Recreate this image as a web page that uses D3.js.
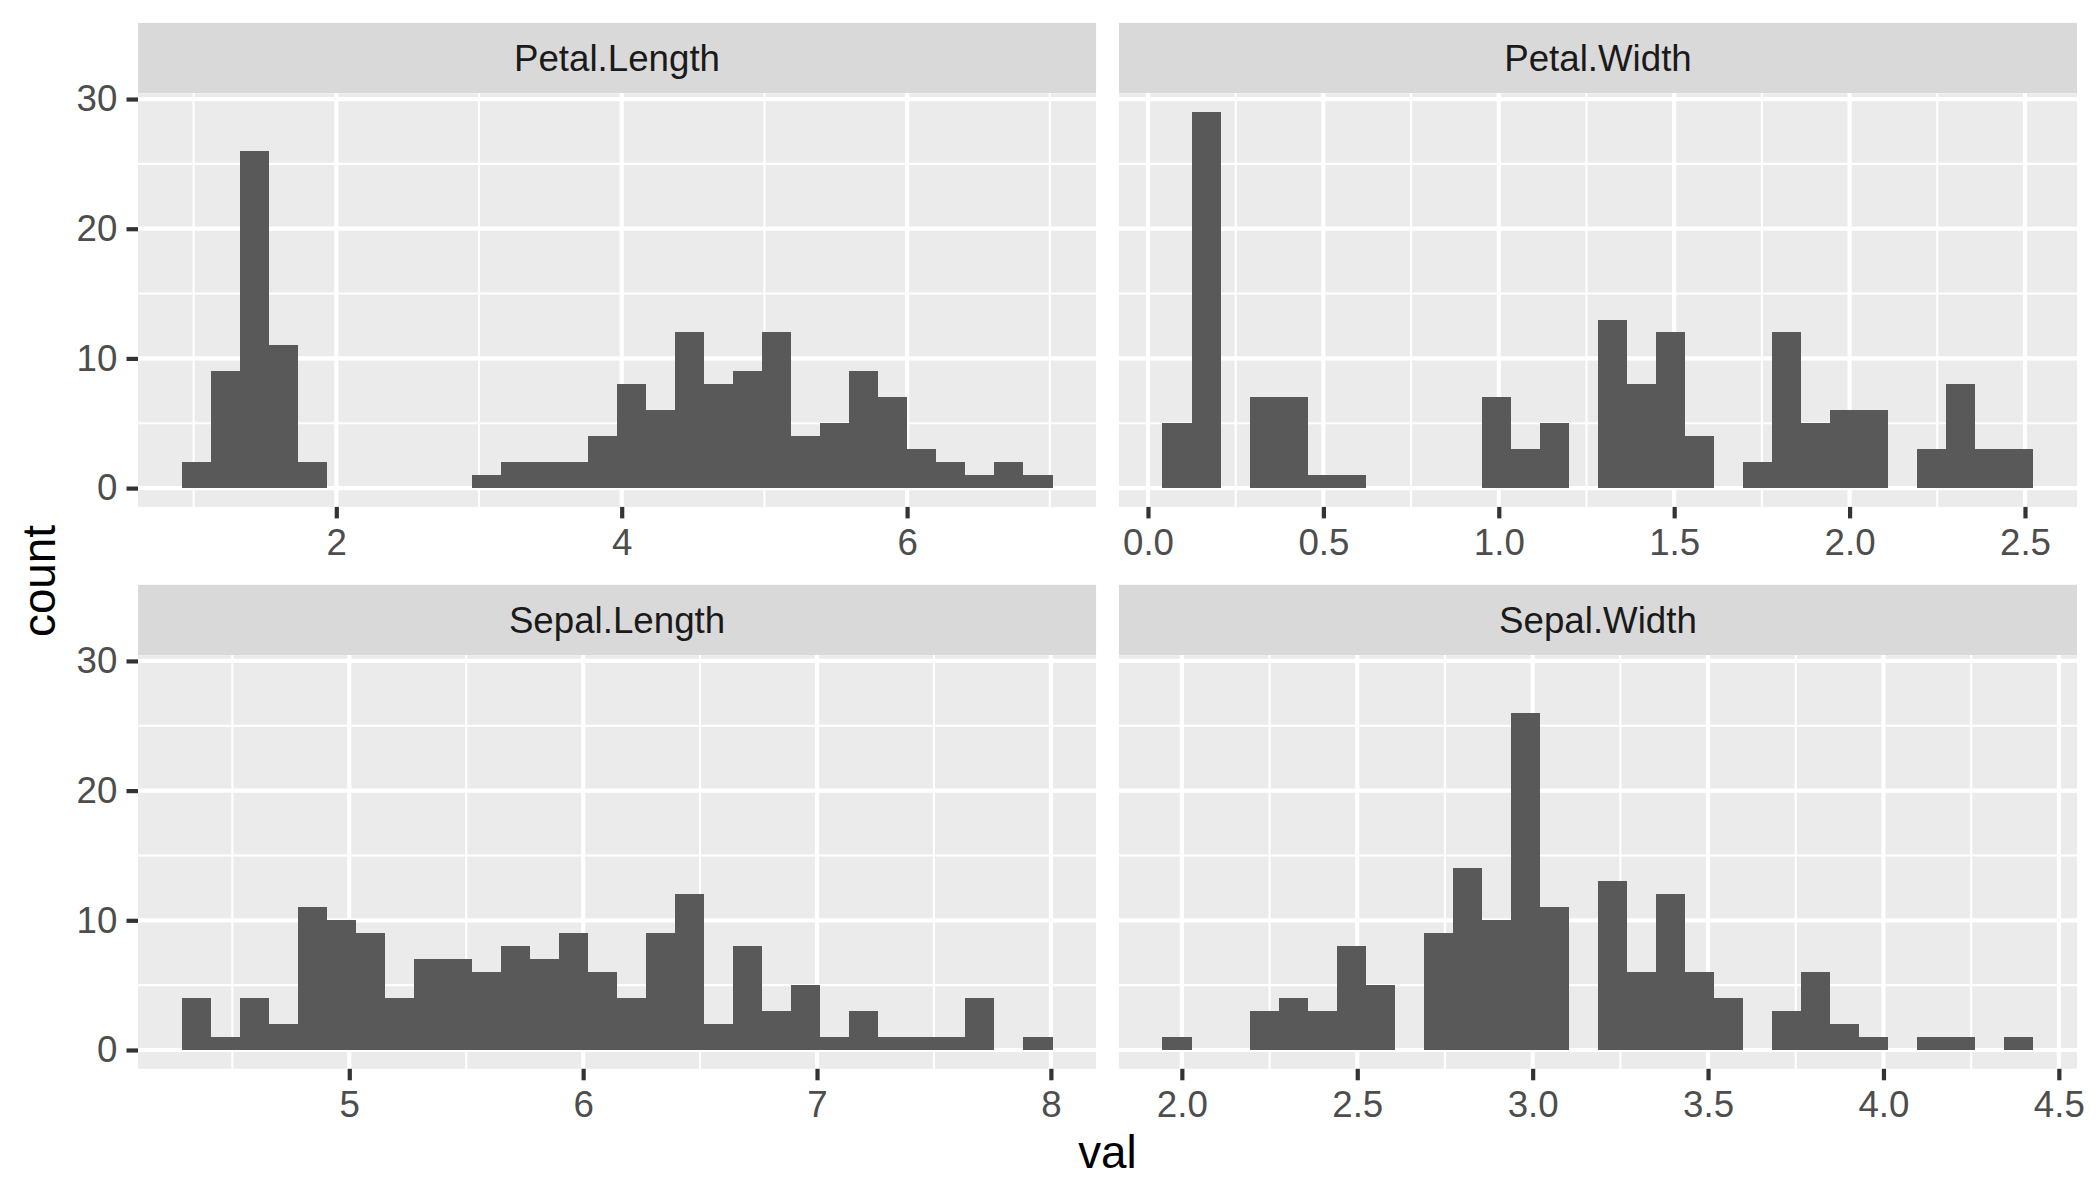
<!DOCTYPE html>
<html>
<head>
<meta charset="utf-8">
<script src="https://cdn.jsdelivr.net/npm/d3@7"></script>
<style>
  html, body { margin: 0; padding: 0; background: #ffffff; }
  svg { display: block; font-family: "Liberation Sans", Arial, Helvetica, sans-serif; }
</style>
</head>
<body>
<svg id="chart" width="2100" height="1200"></svg>
<script>
// ---- data (iris, 30-bin histograms) ----
const panelNames = ["Petal.Length", "Petal.Width", "Sepal.Length", "Sepal.Width"];

const petalLengthCounts = [2, 9, 26, 11, 2, 0, 0, 0, 0, 0, 1, 2, 2, 2, 4, 8, 6, 12, 8, 9, 12, 4, 5, 9, 7, 3, 2, 1, 2, 1];
const petalWidthCounts  = [5, 29, 0, 7, 7, 1, 1, 0, 0, 0, 0, 7, 3, 5, 0, 13, 8, 12, 4, 0, 2, 12, 5, 6, 6, 0, 3, 8, 3, 3];
const sepalLengthCounts = [4, 1, 4, 2, 11, 10, 9, 4, 7, 7, 6, 8, 7, 9, 6, 4, 9, 12, 2, 8, 3, 5, 1, 3, 1, 1, 1, 4, 0, 1];
const sepalWidthCounts  = [1, 0, 0, 3, 4, 3, 8, 5, 0, 9, 14, 10, 26, 11, 0, 13, 6, 12, 6, 4, 0, 3, 6, 2, 1, 0, 1, 1, 0, 1];

// left edge of the first bin and bin width for each panel
const binOrigins = [0.915517, 0.041379, 4.282759, 1.944828];
const binWidths  = [0.203448, 0.082759, 0.124138, 0.082759];

const xTickValues = [
  [2, 4, 6],
  [0, 0.5, 1, 1.5, 2, 2.5],
  [5, 6, 7, 8],
  [2, 2.5, 3, 3.5, 4, 4.5]
];
const xTickLabels = [
  ["2", "4", "6"],
  ["0.0", "0.5", "1.0", "1.5", "2.0", "2.5"],
  ["5", "6", "7", "8"],
  ["2.0", "2.5", "3.0", "3.5", "4.0", "4.5"]
];
const yTickValues = [0, 10, 20, 30];
const yTickLabels = ["0", "10", "20", "30"];
const xTitle = "val";
const yTitle = "count";

const allCounts = [petalLengthCounts, petalWidthCounts, sepalLengthCounts, sepalWidthCounts];

// ---- layout ----
const svg = d3.select("#chart");
const W = 2100, H = 1200;
const marginTop = 22.9, spacing = 22.9;
const plotLeft = 138, plotRight = 2077;
const panelW = (plotRight - plotLeft - spacing) / 2;
const stripH = 70.3, panelH = 413.7, xAxisBlock = 55;
const tickLen = 11.5;
const fontTick = 36.7, fontTitle = 45.8;

const colPanelBg = "#EBEBEB", colStrip = "#D9D9D9", colBar = "#595959";
const colTickText = "#4D4D4D", colTick = "#333333", colStripText = "#1A1A1A";

svg.append("rect").attr("width", W).attr("height", H).attr("fill", "#ffffff");

// shared y scale (fixed), with ggplot's 5% expansion
const yMax = d3.max(allCounts.flat());
const yPad = yMax * 0.05;

panelNames.forEach((name, i) => {
  const col = i % 2, row = Math.floor(i / 2);
  const px = plotLeft + col * (panelW + spacing);
  const stripTop = marginTop + row * (stripH + panelH + xAxisBlock + spacing);
  const py = stripTop + stripH;

  const counts = allCounts[i];
  const bins = counts.map((c, k) => ({
    x0: binOrigins[i] + k * binWidths[i],
    x1: binOrigins[i] + (k + 1) * binWidths[i],
    count: c
  }));
  const xmin = bins[0].x0, xmax = bins[bins.length - 1].x1;
  const xpad = (xmax - xmin) * 0.05;

  const x = d3.scaleLinear().domain([xmin - xpad, xmax + xpad]).range([0, panelW]);
  const y = d3.scaleLinear().domain([0 - yPad, yMax + yPad]).range([panelH, 0]);

  // strip
  const g = svg.append("g").attr("transform", `translate(${px},0)`);
  g.append("rect").attr("x", 0).attr("y", stripTop).attr("width", panelW).attr("height", stripH)
    .attr("fill", colStrip);
  g.append("text").attr("x", panelW / 2).attr("y", stripTop + stripH / 2 + 13)
    .attr("text-anchor", "middle").attr("font-size", fontTick).attr("fill", colStripText)
    .text(name);

  const p = g.append("g").attr("transform", `translate(0,${py})`);
  p.append("rect").attr("width", panelW).attr("height", panelH).attr("fill", colPanelBg);

  // minor grid
  const xt = xTickValues[i];
  const step = xt[1] - xt[0];
  const xMinor = [];
  for (let k = -1; k < xt.length; k++) {
    const v = xt[0] + (k + 0.5) * step;
    if (v > x.domain()[0] && v < x.domain()[1]) xMinor.push(v);
  }
  const yStep = yTickValues[1] - yTickValues[0];
  const yMinor = [];
  for (let k = -1; k < yTickValues.length; k++) {
    const v = yTickValues[0] + (k + 0.5) * yStep;
    if (v > y.domain()[0] && v < y.domain()[1]) yMinor.push(v);
  }
  p.selectAll(".ymin").data(yMinor).join("line")
    .attr("x1", 0).attr("x2", panelW).attr("y1", d => y(d)).attr("y2", d => y(d))
    .attr("stroke", "#ffffff").attr("stroke-width", 2.1);
  p.selectAll(".xmin").data(xMinor).join("line")
    .attr("y1", 0).attr("y2", panelH).attr("x1", d => x(d)).attr("x2", d => x(d))
    .attr("stroke", "#ffffff").attr("stroke-width", 2.1);
  // major grid
  p.selectAll(".ymaj").data(yTickValues).join("line")
    .attr("x1", 0).attr("x2", panelW).attr("y1", d => y(d)).attr("y2", d => y(d))
    .attr("stroke", "#ffffff").attr("stroke-width", 4.2);
  p.selectAll(".xmaj").data(xt).join("line")
    .attr("y1", 0).attr("y2", panelH).attr("x1", d => x(d)).attr("x2", d => x(d))
    .attr("stroke", "#ffffff").attr("stroke-width", 4.2);

  // bars
  p.selectAll(".bar").data(bins.filter(b => b.count > 0)).join("rect")
    .attr("x", d => x(d.x0)).attr("width", d => x(d.x1) - x(d.x0))
    .attr("y", d => y(d.count)).attr("height", d => y(0) - y(d.count))
    .attr("fill", colBar).attr("shape-rendering", "crispEdges");

  // x axis
  const xAxis = d3.axisBottom(x).tickValues(xt)
    .tickFormat((d, k) => xTickLabels[i][k])
    .tickSize(tickLen).tickPadding(10.5);
  const xa = p.append("g").attr("transform", `translate(0,${panelH})`).call(xAxis);
  xa.select(".domain").remove();
  xa.selectAll(".tick line").attr("stroke", colTick).attr("stroke-width", 4.2);
  xa.selectAll(".tick text").attr("fill", colTickText).attr("font-size", fontTick)
    .attr("font-family", "Liberation Sans, Arial, sans-serif");

  // y axis only on left column
  if (col === 0) {
    const yAxis = d3.axisLeft(y).tickValues(yTickValues)
      .tickFormat((d, k) => yTickLabels[k])
      .tickSize(tickLen).tickPadding(9.2);
    const ya = p.append("g").call(yAxis);
    ya.select(".domain").remove();
    ya.selectAll(".tick line").attr("stroke", colTick).attr("stroke-width", 4.2);
    ya.selectAll(".tick text").attr("fill", colTickText).attr("font-size", fontTick)
      .attr("font-family", "Liberation Sans, Arial, sans-serif");
  }
});

// axis titles
const firstPanelTop = marginTop + stripH;
const lastPanelBottom = marginTop + 2 * (stripH + panelH) + xAxisBlock + spacing;
svg.append("text")
  .attr("x", (plotLeft + plotRight) / 2).attr("y", 1168)
  .attr("text-anchor", "middle").attr("font-size", fontTitle).attr("fill", "#000000")
  .text(xTitle);
svg.append("text")
  .attr("transform", `translate(55,${(firstPanelTop + lastPanelBottom) / 2}) rotate(-90)`)
  .attr("text-anchor", "middle").attr("font-size", fontTitle).attr("fill", "#000000")
  .text(yTitle);
</script>
</body>
</html>
